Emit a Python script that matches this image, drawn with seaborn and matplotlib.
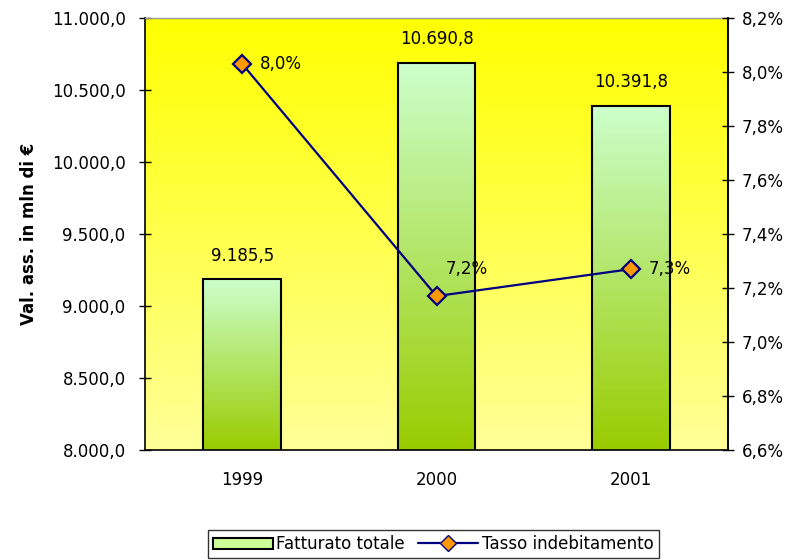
import numpy as np
import pandas as pd
import seaborn as sns
import matplotlib.pyplot as plt
from matplotlib.colors import LinearSegmentedColormap
from matplotlib.patches import Patch
from matplotlib.lines import Line2D
from matplotlib.ticker import FuncFormatter, FixedLocator

anni = ["1999", "2000", "2001"]
fatturato = [9185.5, 10690.8, 10391.8]
tasso = [8.03, 7.17, 7.27]
tasso_label = ["8,0%", "7,2%", "7,3%"]


def fmt_it(v, dec=1):
    s = f"{v:,.{dec}f}"
    return s.replace(",", "X").replace(".", ",").replace("X", ".")


sns.set_style("white")
plt.rcParams["font.family"] = ["DejaVu Sans"]
plt.rcParams["font.size"] = 12
plt.rcParams["text.color"] = "black"
plt.rcParams["xtick.color"] = "black"
plt.rcParams["ytick.color"] = "black"
plt.rcParams["axes.labelcolor"] = "black"

fig = plt.figure(figsize=(7.98, 5.60), dpi=100)
ax = fig.add_axes([0.1817, 0.1964, 0.7306, 0.7715])

df = pd.DataFrame({"Anno": anni, "Fatturato": fatturato})
sns.barplot(data=df, x="Anno", y="Fatturato", width=0.4, color="#ccffcc",
            edgecolor="black", linewidth=1.5, ax=ax, zorder=2)

# sfondo sfumato
bg = LinearSegmentedColormap.from_list("bg", ["#ffff99", "#ffff00"])
grad = np.linspace(0, 1, 256).reshape(-1, 1)
ax.imshow(grad, aspect="auto", cmap=bg, origin="lower",
          extent=[-0.5, 2.5, 8000, 11000], zorder=0)

# barre sfumate
barcm = LinearSegmentedColormap.from_list("bar", ["#99cc00", "#ccffcc"])
for p in ax.patches:
    x0, w = p.get_x(), p.get_width()
    h = p.get_height()
    im = ax.imshow(grad, aspect="auto", cmap=barcm, origin="lower",
                   extent=[x0, x0 + w, 8000, h], zorder=1.5)
    im.set_clip_path(p)
    p.set_facecolor("none")
ax.set_xlim(-0.5, 2.5)
ax.set_ylim(8000, 11000)

for i, v in enumerate(fatturato):
    ax.text(i, v + 100, fmt_it(v), ha="center", va="bottom", fontsize=12)

ax.yaxis.set_major_locator(FixedLocator(np.arange(8000, 11001, 500)))
ax.yaxis.set_major_formatter(FuncFormatter(lambda v, p: fmt_it(v)))
ax.set_ylabel("Val. ass. in mln di €", fontweight="bold", fontsize=12, labelpad=10)
ax.set_xlabel("")
ax.xaxis.set_minor_locator(FixedLocator([-0.5, 0.5, 1.5, 2.5]))
ax.tick_params(axis="x", which="major", length=0, pad=15)
ax.tick_params(axis="x", which="minor", length=5, direction="out", color="black", width=1)
ax.tick_params(axis="y", length=8, direction="inout", color="black", width=1, pad=10)

for s in ["left", "bottom", "right"]:
    ax.spines[s].set_color("black")
    ax.spines[s].set_linewidth(1.2)
ax.spines["top"].set_color("#999999")
ax.spines["top"].set_linewidth(1)

ax2 = ax.twinx()
ax2.plot(range(3), tasso, color="#000080", linewidth=1.6, marker="D",
         markersize=9, markerfacecolor="#ff9900", markeredgecolor="#000080",
         markeredgewidth=1.6, zorder=3)
ax2.set_ylim(6.6, 8.2)
ax2.yaxis.set_major_locator(FixedLocator(np.arange(6.6, 8.21, 0.2)))
ax2.yaxis.set_major_formatter(FuncFormatter(lambda v, p: fmt_it(v) + "%"))
ax2.tick_params(axis="y", length=8, direction="inout", color="black", width=1, pad=6)
for s in ["left", "bottom", "top"]:
    ax2.spines[s].set_visible(False)
ax2.spines["right"].set_color("black")
ax2.spines["right"].set_linewidth(1.2)
offs = [(0.09, 0.0), (0.045, 0.10), (0.09, 0.0)]
for i, (v, t) in enumerate(zip(tasso, tasso_label)):
    dx, dy = offs[i]
    ax2.text(i + dx, v + dy, t, ha="left", va="center", fontsize=12)

handles = [Patch(facecolor="#ccff99", edgecolor="black", linewidth=1.5),
           Line2D([0], [0], color="#000080", linewidth=1.6, marker="D", markersize=8,
                  markerfacecolor="#ff9900", markeredgecolor="#000080")]
leg = fig.legend(handles, ["Fatturato totale", "Tasso indebitamento"],
                 loc="center", bbox_to_anchor=(0.543, 0.028), ncol=2,
                 frameon=True, fancybox=False, edgecolor="black",
                 handlelength=3.6, columnspacing=0.8, handletextpad=0.2,
                 borderpad=0.3, fontsize=12)
leg.get_frame().set_linewidth(1)

fig.savefig("out.png", dpi=100)
